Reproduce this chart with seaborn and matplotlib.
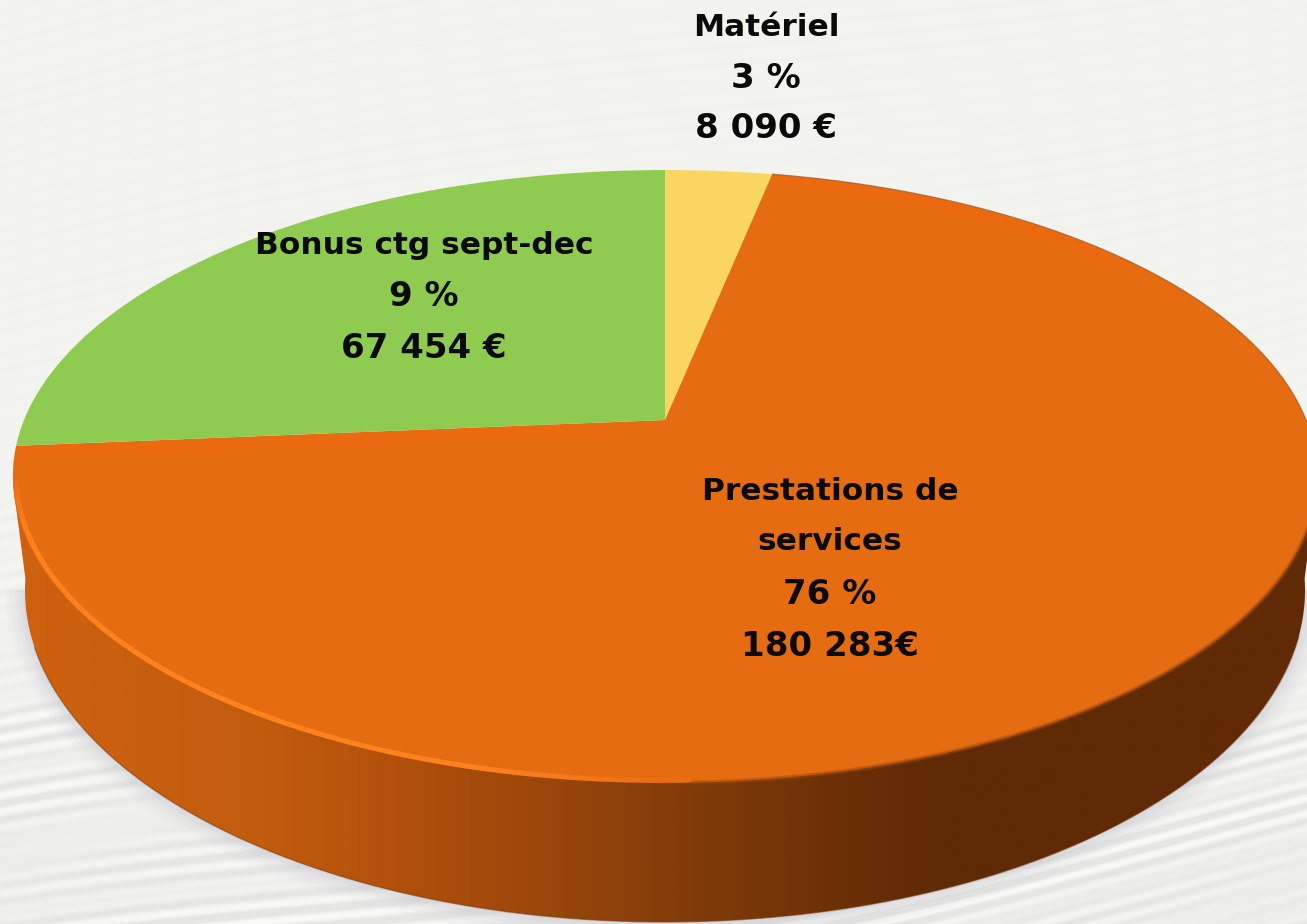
"""
3D style pie chart: budget split (Matériel, Prestations de services, Bonus ctg).
"""

import numpy as np
import matplotlib
matplotlib.use('Agg')
import matplotlib.pyplot as plt
import matplotlib.transforms as mtransforms
from matplotlib.colors import LinearSegmentedColormap
from matplotlib.collections import LineCollection
from matplotlib.patches import Polygon
import seaborn as sns

# ── Data ──────────────────────────────────────────────────────────
categories = ["Matériel", "Prestations de services", "Bonus ctg sept-dec"]
amounts = [8090, 180283, 67454]
slice_colors = ["#f8d660", "#e66c12", "#8fcb50"]

label_lines = [
    ["Matériel", "3 %", "8 090 €"],
    ["Prestations de", "services", "76 %", "180 283€"],
    ["Bonus ctg sept-dec", "9 %", "67 454 €"],
]
label_x = [766, 830, 424]
label_y = [
    [27, 78, 129],
    [491, 541, 594, 646],
    [245, 297, 349],
]

# ── Geometry (in image pixels) ────────────────────────────────────
APEX_X, APEX_Y = 665, 420
RX, RY, PERSP = 641, 296, 0.1843
BASE_X, BASE_Y, BASE_A, BASE_B = 665, 590, 640, 332


class Tilt(mtransforms.Transform):
    """Unit circle -> disc lying on a table seen in perspective."""
    input_dims = 2
    output_dims = 2

    def transform_non_affine(self, values):
        values = np.asarray(values, dtype=float)
        d = 1 + PERSP * values[:, 1]
        return np.column_stack([APEX_X + RX * values[:, 0] / d,
                                APEX_Y - RY * values[:, 1] / d])


def rim(deg, r=1.0):
    t = np.radians(deg)
    return Tilt().transform_non_affine(np.column_stack([r * np.cos(t), r * np.sin(t)]))


def base(deg, grow=0):
    t = np.radians(deg)
    return np.column_stack([BASE_X + (BASE_A + grow) * np.cos(t),
                            BASE_Y - (BASE_B + grow) * np.sin(t)])


sns.set_theme(style="white")
plt.rcParams['font.family'] = ['DejaVu Sans']

fig = plt.figure(figsize=(13.07, 9.24), dpi=100)
ax = fig.add_axes([0, 0, 1, 1])

# ── Pie top (wedges from the amounts, then tilted) ────────────────
wedges, _ = ax.pie(amounts, colors=slice_colors, startangle=90, counterclock=False,
                   radius=1, center=(0, 0), wedgeprops={'linewidth': 0, 'zorder': 5})
tilt = Tilt()
for w in wedges:
    w.set_transform(tilt + ax.transData)

ax.set_aspect('auto')
ax.set_xlim(0, 1307)
ax.set_ylim(924, 0)
ax.axis('off')

# ── Background paper with faint streaks, stronger towards the bottom ──
yy, xx = np.mgrid[0:924:1, 0:1307:1]
phase = yy + 0.18 * xx + 26 * np.sin(xx / 260.0 + yy / 500.0)
streaks = np.sin(phase / 2.6) * np.sin(phase / 23.0) * np.sin(phase / 71.0 + xx / 420.0)
strength = 0.10 + 0.90 * np.clip((yy - 480) / 320.0, 0, 1)
darken = -0.40 * np.clip((yy - 560) / 300.0, 0, 1)
paper_cmap = LinearSegmentedColormap.from_list("paper", ["#e6e6e3", "#f3f3f0", "#fafaf8"])
ax.imshow(streaks * strength * 1.4 + darken, extent=(0, 1307, 924, 0), cmap=paper_cmap,
          vmin=-1, vmax=1, aspect='auto', zorder=0)

# ── Soft shadow under the disc ────────────────────────────────────
for grow, alpha in [(20, 0.08), (15, 0.12), (10, 0.16), (6, 0.22), (2, 0.28)]:
    pts = base(np.linspace(180, 360, 200), grow)
    ax.add_patch(Polygon(pts, closed=True, facecolor="#cbccd4", edgecolor='none',
                         alpha=alpha, zorder=1))

# ── Side wall, shaded from left to right ──────────────────────────
wall_stops = [(0.00, "#d0620f"), (0.20, "#c15c0f"), (0.30, "#b2500c"), (0.42, "#99470a"),
              (0.52, "#833c0a"), (0.64, "#6c3006"), (0.72, "#5f2a05"), (1.00, "#5f2a05")]
wall_cmap = LinearSegmentedColormap.from_list("wall", wall_stops)
wall_path = np.vstack([rim([192]), base(np.linspace(178, 362, 240)), rim([-12])])
wall_patch = Polygon(wall_path, closed=True, facecolor='none', edgecolor='none')
ax.add_patch(wall_patch)
gradient = np.linspace(0, 1, 512).reshape(1, -1)
wall_img = ax.imshow(gradient, extent=(0, 1307, 924, 300), cmap=wall_cmap, aspect='auto', zorder=2)
wall_img.set_clip_path(wall_patch)

# thin dark line where the wall meets the table
edge = base(np.linspace(190, 352, 240))
ax.plot(edge[:, 0], edge[:, 1], color="#7a3608", lw=1.0, alpha=0.5, zorder=3)

ax.set_xlim(0, 1307)
ax.set_ylim(924, 0)

# ── Rim details on the top face ───────────────────────────────────
# soft dark blur on the right part of the front rim
front_right = rim(np.linspace(272, 352, 120))
ax.plot(front_right[:, 0], front_right[:, 1], color="#9c4a0c", lw=3.0, alpha=0.5, zorder=6)

# bright bevel on the front left
bevel_deg = np.linspace(190, 272, 120)
bevel = rim(bevel_deg, 0.995)
segs = np.stack([bevel[:-1], bevel[1:]], axis=1)
fade = np.clip((272 - bevel_deg[:-1]) / 16.0, 0, 1) * np.clip((bevel_deg[:-1] - 190) / 10.0, 0, 1)
bevel_colors = [(1.0, 0.51, 0.12, a) for a in fade]
ax.add_collection(LineCollection(segs, colors=bevel_colors, linewidths=3.6, zorder=6))

# redder strips along the slice edges
orange_end, orange_start = wedges[1].theta1, wedges[1].theta2
left_strip = rim([orange_end, orange_end], 1.0)
left_strip[1] = [APEX_X - 60, APEX_Y + 2]
ax.plot(left_strip[:, 0], left_strip[:, 1] + 7, color="#f5690f", lw=9, alpha=0.35,
        solid_capstyle='butt', zorder=6)
top_strip = rim(np.linspace(orange_start - 1, orange_start - 42, 80), 0.975)
ax.plot(top_strip[:, 0], top_strip[:, 1], color="#f5690f", lw=8, alpha=0.4, zorder=6)

# fine dark outline along the top right edge
top_edge = rim(np.linspace(orange_start, -5, 120))
ax.plot(top_edge[:, 0], top_edge[:, 1], color="#a0561f", lw=0.9, alpha=0.7, zorder=6)

# ── Labels ────────────────────────────────────────────────────────
for lines, x, ys in zip(label_lines, label_x, label_y):
    for line, y in zip(lines, ys):
        size = 24.5 if line[0].isdigit() else 22.5
        ax.text(x, y, line, ha='center', va='center', fontsize=size, fontweight='bold',
                color="#0a0a0a", zorder=8)

plt.savefig("out.png", dpi=100)
plt.close()
